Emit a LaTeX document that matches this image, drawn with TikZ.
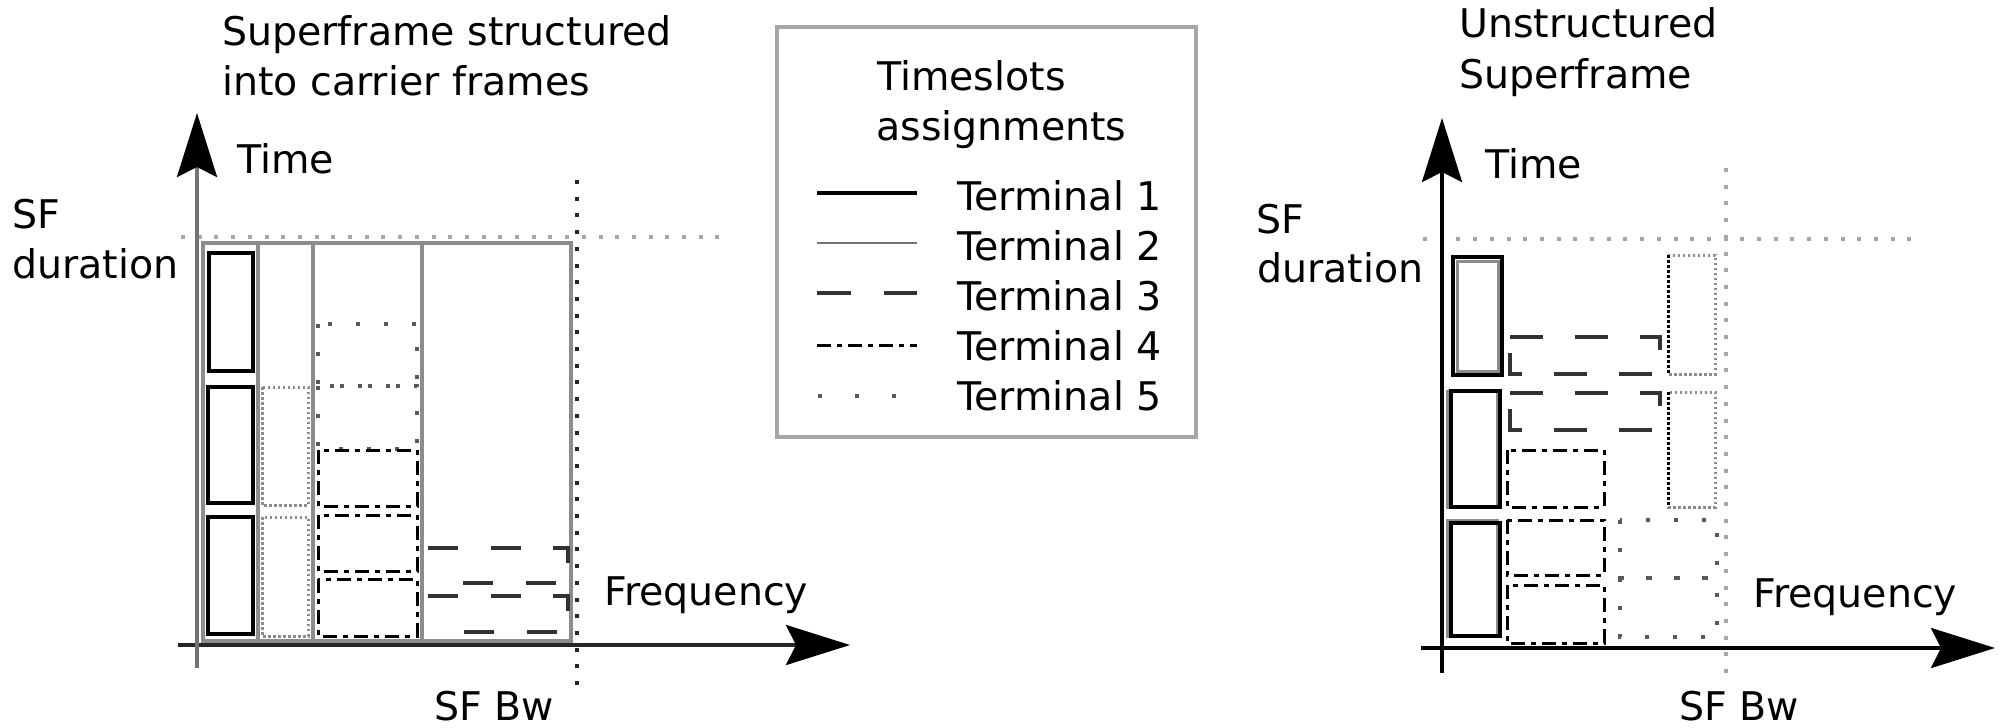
\documentclass[tikz,border=0pt]{standalone}
\usepackage{fontspec}
\setmainfont{DejaVu Sans}
\usetikzlibrary{arrows.meta}

\begin{document}
\begin{tikzpicture}[x=1pt,y=-1pt,
  lbl/.style={anchor=base west, inner sep=0pt, font=\fontsize{39.5}{50}\selectfont},
  axis/.style={line width=4pt, -{Stealth[length=64pt,width=40pt,inset=10pt,black]}},
  cframe/.style={draw=black!45, line width=4pt},
  termA/.style={draw=black, line width=3.5pt},
  termB/.style={draw=black!55, line width=2.5pt},
  termC/.style={draw=black!80, line width=3.5pt, dash pattern=on 30pt off 32.5pt},
  termD/.style={draw=black, line width=3pt, dash pattern=on 14pt off 6pt on 5pt off 6pt},
  termE/.style={draw=black!65, line width=4pt, dash pattern=on 4pt off 24pt},
  termEd/.style={draw=black!45, line width=3pt, dash pattern=on 2.5pt off 2.5pt},
  sfline/.style={line width=4pt, dash pattern=on 4pt off 12.7pt},
]
\useasboundingbox (0,0) rectangle (2000,728);

% ---------------- structured superframe ----------------
\node (ltitleA) [lbl] at (222,45) {Superframe structured};
\node (ltitleB) [lbl] at (222,95) {into carrier frames};
\node (ltime) [lbl] at (237,173) {Time};
\node (lsf) [lbl] at (12,228) {SF};
\node (ldur) [lbl] at (12,278) {duration};
\node (lfreq) [lbl] at (604,605) {Frequency};
\node (lbw) [lbl] at (434,720) {SF Bw};

% reference lines: superframe duration and bandwidth
\draw[sfline, draw=black!35] (181,237) -- (721,237);
\draw[sfline, draw=black!85] (577,180) -- (577,690);

% carrier frames
\draw[cframe] (203,243) rectangle (258,641);
\draw[cframe] (258,243) rectangle (313,641);
\draw[cframe] (313,243) rectangle (422,641);
\draw[cframe] (422,243) rectangle (571,641);

% terminal 1 slots
\draw[termA] (209,253) rectangle (253,371);
\draw[termA] (208,387) rectangle (253,503);
\draw[termA] (208,517) rectangle (253,634);
% terminal 5 slots (second carrier)
\draw[termEd] (262,387) rectangle (308,505);
\draw[termEd] (262,517) rectangle (308,636);
% terminal 5 slots (third carrier)
\draw[termE] (318,324) rectangle (417,386);
\draw[termE] (318,386) rectangle (417,449);
% terminal 4 slots
\draw[termD] (318,450) rectangle (417,506);
\draw[termD] (318,515) rectangle (417,571);
\draw[termD] (318,579) rectangle (417,636);
% terminal 3 slots, drawn clockwise from the top left corner;
% five dashes per outline, the left side falls in a gap
\tikzset{fivedash/.style={dash pattern=on 30pt off 32.5pt on 30pt off 32.5pt on 30pt off 32.5pt on 30pt off 32.5pt on 30pt off 72pt}}
\draw[termC, fivedash] (428,548) -- (568,548) -- (568,583) -- (428,583) -- cycle;
\draw[termC, fivedash] (428,596) -- (568,596) -- (568,632) -- (428,632) -- cycle;

% axes
\coordinate (lyb) at (197,668);
\coordinate (lyt) at (197,113);
\coordinate (lxb) at (178,645);
\coordinate (lxt) at (850,645);
\draw[axis, draw=black!85] (lxb) -- (lxt);
\draw[axis, draw=black!55] (lyb) -- (lyt);

% ---------------- legend ----------------
\draw[draw=black!35, line width=4pt] (777,27) rectangle (1196,437);
\node (lgA) [lbl] at (877,90) {Timeslots};
\node (lgB) [lbl] at (876,140) {assignments};
\node (t1) [lbl] at (957,210) {Terminal 1};
\node (t2) [lbl] at (957,260) {Terminal 2};
\node (t3) [lbl] at (957,310) {Terminal 3};
\node (t4) [lbl] at (957,360) {Terminal 4};
\node (t5) [lbl] at (957,410) {Terminal 5};
\draw[termA] (817,193) -- (917,193);
\draw[termB] (817,243) -- (917,243);
\draw[termC, dash pattern=on 34pt off 33pt] (817,293) -- (917,293);
\draw[termD] (817,345) -- (917,345);
\draw[termE, dash pattern=on 4pt off 33pt] (818,396) -- (917,396);

% ---------------- unstructured superframe ----------------
\node (rtitleA) [lbl] at (1459,37) {Unstructured};
\node (rtitleB) [lbl] at (1459,88) {Superframe};
\node (rtime) [lbl] at (1485,178) {Time};
\node (rsf) [lbl] at (1256,233) {SF};
\node (rdur) [lbl] at (1257,282) {duration};
\node (rfreq) [lbl] at (1753,607) {Frequency};
\node (rbw) [lbl] at (1679,720) {SF Bw};

\draw[sfline, draw=black!35] (1423,239) -- (1914,239);
\draw[sfline, draw=black!35] (1726,168) -- (1726,673);

% terminal 1 slots
\draw[draw=black!45, line width=3pt] (1457,261) rectangle (1498,371);
\draw[termA] (1453,257) rectangle (1502,375);
\draw[draw=black!45, line width=3pt] (1447,391) rectangle (1497,507);
\draw[termA] (1451,391) rectangle (1500,507);
\draw[draw=black!45, line width=3pt] (1447,520) rectangle (1497,636);
\draw[termA] (1451,523) rectangle (1500,636);
% terminal 3 slots, drawn clockwise from the top left corner
\draw[termC, dash pattern=on 33pt off 32pt] (1510,337) -- (1660,337) -- (1660,374) -- (1510,374) -- cycle;
\draw[termC, dash pattern=on 33pt off 32pt] (1510,393) -- (1660,393) -- (1660,430) -- (1510,430) -- cycle;
% terminal 5 tall slots
\draw[termEd] (1668,255) rectangle (1715,374);
\draw[termEd, draw=black] (1668,255) -- (1668,374);
\draw[termEd] (1668,392) rectangle (1715,507);
\draw[termEd, draw=black] (1668,392) -- (1668,507);
% terminal 4 slots
\draw[termD] (1507,450) rectangle (1604,507);
\draw[termD] (1507,520) rectangle (1604,575);
\draw[termD] (1507,585) rectangle (1604,643);
% terminal 5 slots
\draw[termE] (1620,520) rectangle (1717,578);
\draw[termE] (1620,578) rectangle (1717,637);

% axes
\coordinate (ryb) at (1442,673);
\coordinate (ryt) at (1442,118);
\coordinate (rxb) at (1421,648);
\coordinate (rxt) at (1995,648);
\draw[axis] (rxb) -- (rxt);
\draw[axis] (ryb) -- (ryt);
\end{tikzpicture}
\end{document}
